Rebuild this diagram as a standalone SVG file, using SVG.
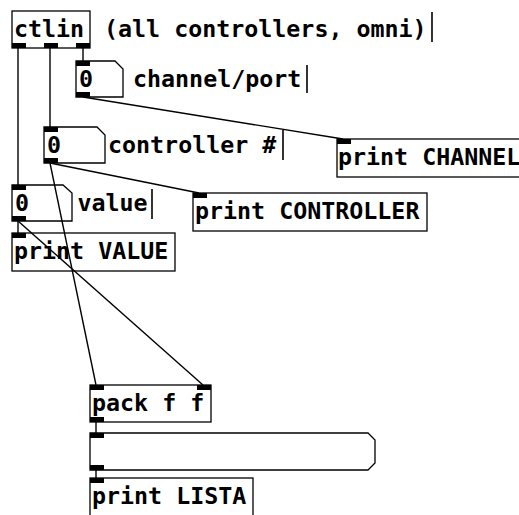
<svg xmlns="http://www.w3.org/2000/svg" width="519" height="515" viewBox="0 0 519 515">
  <style>
    .box { fill: none; stroke: #000; stroke-width: 1.3; }
    .io { fill: #000; }
    .t { font-family: "DejaVu Sans Mono", "Liberation Mono", monospace; font-weight: bold; font-size: 23.3px; fill: #000; }
    .wire { stroke: #000; stroke-width: 1.4; fill: none; }
    .bar { stroke: #000; stroke-width: 1.6; }
  </style>
  <rect width="519" height="515" fill="#fff"/>

  <g id="ctlin">
    <rect class="box" x="12" y="11" width="78" height="37"/>
    <rect class="io" x="12" y="43" width="14" height="5"/>
    <rect class="io" x="44" y="43" width="14" height="5"/>
    <rect class="io" x="76" y="43" width="14" height="5"/>
    <text class="t" x="14" y="37">ctlin</text>
  </g>
  <g id="comment-ctlin">
    <text class="t" x="104" y="37">(all controllers, omni)</text>
    <line class="bar" x1="432" y1="12" x2="432" y2="42"/>
  </g>

  <g id="num-channel">
    <path class="box" d="M76,61 H115 L123,69 V97 H76 Z"/>
    <rect class="io" x="76" y="61" width="14" height="5"/>
    <rect class="io" x="76" y="92" width="14" height="5"/>
    <text class="t" x="79" y="87">0</text>
  </g>
  <g id="comment-channel">
    <text class="t" x="133" y="87">channel/port</text>
    <line class="bar" x1="307" y1="65" x2="307" y2="93"/>
  </g>

  <g id="num-controller">
    <path class="box" d="M44,127 H97 L105,135 V163 H44 Z"/>
    <rect class="io" x="44" y="127" width="14" height="5"/>
    <rect class="io" x="44" y="158" width="14" height="5"/>
    <text class="t" x="47" y="153">0</text>
  </g>
  <g id="comment-controller">
    <text class="t" x="108" y="153">controller #</text>
    <line class="bar" x1="283" y1="130" x2="283" y2="160"/>
  </g>

  <g id="num-value">
    <path class="box" d="M12,185 H63 L72,193 V221 H12 Z"/>
    <rect class="io" x="12" y="185" width="14" height="5"/>
    <rect class="io" x="12" y="216" width="14" height="5"/>
    <text class="t" x="15" y="211">0</text>
  </g>
  <g id="comment-value">
    <text class="t" x="77.5" y="211">value</text>
    <line class="bar" x1="152" y1="189" x2="152" y2="219"/>
  </g>

  <g id="print-channel">
    <rect class="box" x="337" y="139" width="200" height="38"/>
    <rect class="io" x="337" y="139" width="14" height="5"/>
    <text class="t" x="338" y="165">print CHANNEL</text>
  </g>

  <g id="print-controller">
    <rect class="box" x="193" y="193" width="234" height="38"/>
    <rect class="io" x="193" y="193" width="14" height="5"/>
    <text class="t" x="195" y="219">print CONTROLLER</text>
  </g>

  <g id="print-value">
    <rect class="box" x="12" y="233" width="163" height="38"/>
    <rect class="io" x="12" y="233" width="14" height="5"/>
    <text class="t" x="14" y="259">print VALUE</text>
  </g>

  <g id="pack">
    <rect class="box" x="90" y="385" width="121" height="37"/>
    <rect class="io" x="90" y="385" width="14" height="5"/>
    <rect class="io" x="197" y="385" width="14" height="5"/>
    <rect class="io" x="90" y="417" width="14" height="5"/>
    <text class="t" x="92" y="411">pack f f</text>
  </g>

  <g id="msg">
    <path class="box" d="M90,433 H368 L375,440 V463 L368,470 H90 Z"/>
    <rect class="io" x="90" y="433" width="14" height="5"/>
    <rect class="io" x="90" y="465" width="14" height="5"/>
  </g>

  <g id="print-lista">
    <rect class="box" x="90" y="478" width="163" height="38"/>
    <rect class="io" x="90" y="478" width="14" height="5"/>
    <text class="t" x="92" y="504">print LISTA</text>
  </g>

  <!-- patch cords, drawn over the boxes -->
  <g id="connections">
    <line class="wire" x1="18" y1="48" x2="18" y2="185"/>
    <line class="wire" x1="50" y1="48" x2="50" y2="127"/>
    <line class="wire" x1="83" y1="48" x2="83" y2="61"/>
    <line class="wire" x1="83" y1="97" x2="343" y2="139"/>
    <line class="wire" x1="50" y1="163" x2="199" y2="193"/>
    <line class="wire" x1="50" y1="163" x2="96" y2="385"/>
    <line class="wire" x1="18" y1="221" x2="18" y2="233"/>
    <line class="wire" x1="18" y1="221" x2="203" y2="385"/>
    <line class="wire" x1="96" y1="422" x2="96" y2="433"/>
    <line class="wire" x1="96" y1="470" x2="96" y2="478"/>
  </g>
</svg>
